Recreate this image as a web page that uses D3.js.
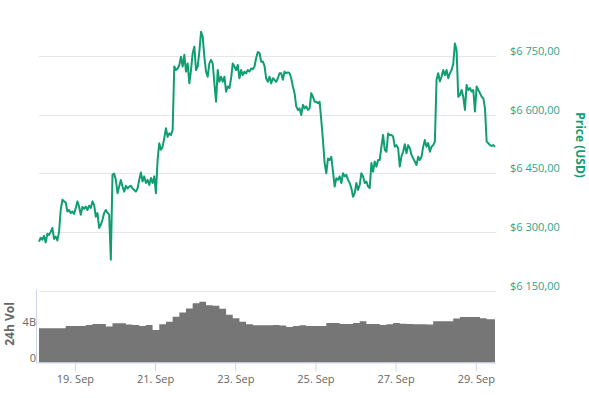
<!DOCTYPE html>
<html>
<head>
<meta charset="utf-8">
<script src="https://cdn.jsdelivr.net/npm/d3@7"></script>
<style>
  body { margin: 0; background: #fff; }
  text { font-family: "Open Sans", sans-serif; }
</style>
</head>
<body>
<div class="chart"></div>
<script>
// hourly BTC price, starting 18 Sep 2018 02:30
var priceStart = '2018-09-18 02:30';
var prices = [
  6275,6285,6280,6290,6273,6295,6292,6300,6310,6282,
  6288,6278,6300,6356,6382,6378,6375,6352,6356,6348,
  6352,6346,6361,6378,6365,6344,6364,6359,6365,6356,
  6367,6361,6378,6369,6339,6348,6310,6318,6331,6348,
  6356,6349,6344,6229,6446,6449,6433,6399,6416,6433,
  6416,6403,6418,6411,6416,6418,6411,6407,6403,6411,
  6433,6452,6429,6442,6425,6433,6420,6438,6425,6442,
  6399,6484,6527,6510,6518,6540,6565,6543,6552,6548,
  6561,6723,6714,6718,6727,6748,6723,6753,6710,6731,
  6680,6714,6757,6774,6714,6723,6761,6812,6799,6748,
  6710,6697,6731,6740,6731,6680,6633,6714,6684,6697,
  6684,6697,6659,6672,6668,6693,6731,6723,6714,6727,
  6693,6714,6701,6710,6706,6714,6710,
  6718,6716,6723,6745,6760,6758,6735,6736,6725,6693,
  6684,6697,6680,6693,6689,6684,6693,6706,6706,6689,
  6710,6706,6708,6706,6693,6672,6655,6621,6612,6616,
  6599,6625,6616,6621,6612,6616,6655,6646,6633,6633,
  6629,6633,6586,6535,6476,6450,6488,6484,6492,6454,
  6416,6437,6433,6442,6425,6450,6442,6446,6433,6425,
  6412,6390,6399,6425,6407,6420,6450,6442,6425,6429,
  6416,6412,6476,6454,6480,6467,6484,6484,6518,6548,
  6510,6505,6552,6548,6548,6544,6518,6522,6514,6467,
  6493,6505,6524,6501,6522,6514,6497,6488,6480,6471,
  6492,6484,6492,6518,6535,6518,6527,6505,6518,6522,
  6531,6689,6706,6685,6697,6714,6701,6714,6693,6706,
  6714,6730,6782,6765,6646,6650,6663,6646,6612,6676,
  6663,6668,6659,6663,6608,6672,6663,6655,6646,6642,
  6616,6531,6527,6522,6520,6522,6518
];
// 24h volume in billions, every 4 hours from the same start
var volumeStepHours = 4;
var volumes = [
  3.84,3.84,3.84,3.84,4.09,4.11,4.11,4.22,4.33,4.33,
  4.03,4.40,4.40,4.26,4.22,4.11,4.22,3.66,4.29,4.59,
  5.14,5.61,6.07,6.66,6.83,6.42,6.37,6.05,5.37,4.96,
  4.59,4.29,4.18,4.18,4.18,4.22,4.15,3.99,4.11,4.18,
  4.11,4.11,4.11,4.44,4.44,4.33,4.33,4.44,4.63,4.33,
  4.33,4.22,4.30,4.44,4.36,4.33,4.29,4.29,4.26,4.63,
  4.63,4.63,4.93,5.12,5.12,5.12,4.96,4.85,4.85
];
var priceTicks = [6150, 6300, 6450, 6600, 6750];
var volumeTicks = [0, 4];
var dateTicks = ['2018-09-19', '2018-09-21', '2018-09-23', '2018-09-25', '2018-09-27', '2018-09-29'];

var width = 589;
var height = 398;
var left = 39, right = 495;
var priceTop = 56, priceBottom = 290.5;
var volTop = 289.5, volBottom = 362.5;

var lineColor = '#0f9d72';
var labelColor = '#2aa58b';
var axisColor = '#ccd6eb';

var start = d3.timeParse('%Y-%m-%d %H:%M')(priceStart);
var priceData = prices.map(function(p, i) {
  return { date: d3.timeHour.offset(start, i), value: p };
});
var volumeData = volumes.map(function(v, i) {
  return { date: d3.timeHour.offset(start, i * volumeStepHours), value: v };
});
var endDate = priceData[priceData.length - 1].date;
volumeData.push({ date: endDate, value: volumes[volumes.length - 1] });

var x = d3.scaleTime()
  .domain([start, endDate])
  .range([left, right]);
var y = d3.scaleLinear()
  .domain([6150, 6750])
  .range([priceBottom, priceTop]);
var yVol = d3.scaleLinear()
  .domain([0, 8.2])
  .range([volBottom, volTop]);

var locale = d3.formatLocale({ decimal: ',', thousands: '\u00a0', grouping: [3], currency: ['$', ''] });
var fmtPrice = locale.format('$,.2f');

var svg = d3.select('.chart')
  .append('svg')
  .attr('width', width)
  .attr('height', height);

// price gridlines + right labels
svg.append('g')
  .selectAll('line')
  .data(priceTicks)
  .enter()
  .append('line')
  .attr('x1', left)
  .attr('x2', right + 1)
  .attr('y1', function(d) { return Math.round(y(d)) + 0.5; })
  .attr('y2', function(d) { return Math.round(y(d)) + 0.5; })
  .attr('stroke', '#e6e6e6');

svg.append('g')
  .selectAll('text')
  .data(priceTicks)
  .enter()
  .append('text')
  .attr('x', 510)
  .attr('y', function(d) { return y(d) - 1; })
  .attr('font-size', 11)
  .attr('fill', labelColor)
  .text(function(d) { return fmtPrice(d).replace('\u00a0', ' '); });

svg.append('text')
  .attr('transform', 'translate(576,145) rotate(90)')
  .attr('text-anchor', 'middle')
  .attr('font-size', 12)
  .attr('font-weight', 'bold')
  .attr('fill', lineColor)
  .text('Price (USD)');

// volume pane
var area = d3.area()
  .curve(d3.curveStepAfter)
  .x(function(d) { return x(d.date); })
  .y0(volBottom)
  .y1(function(d) { return yVol(d.value); });

svg.append('path')
  .datum(volumeData)
  .attr('d', area)
  .attr('fill', '#767676');

svg.append('line')
  .attr('x1', 36.5).attr('x2', 36.5)
  .attr('y1', volTop).attr('y2', volBottom)
  .attr('stroke', axisColor);

svg.append('g')
  .selectAll('text')
  .data(volumeTicks)
  .enter()
  .append('text')
  .attr('x', 36)
  .attr('y', function(d) { return yVol(d) - 1; })
  .attr('text-anchor', 'end')
  .attr('font-size', 11)
  .attr('fill', '#666')
  .text(function(d) { return d === 0 ? '0' : d + 'B'; });

svg.append('text')
  .attr('transform', 'translate(14,324) rotate(-90)')
  .attr('text-anchor', 'middle')
  .attr('font-size', 12)
  .attr('font-weight', 'bold')
  .attr('fill', '#666')
  .text('24h Vol');

// x axis
var parseDay = d3.timeParse('%Y-%m-%d');
var xAxis = d3.axisBottom(x)
  .tickValues(dateTicks.map(parseDay))
  .tickSize(9)
  .tickPadding(4)
  .tickFormat(d3.timeFormat('%d. %b'));

var gx = svg.append('g')
  .attr('transform', 'translate(0,' + volBottom + ')')
  .call(xAxis);
gx.select('.domain').attr('d', 'M36,0.5H' + (right + 1)).attr('stroke', axisColor);
gx.selectAll('.tick line').attr('stroke', axisColor);
gx.selectAll('.tick text')
  .attr('font-family', '"Open Sans", sans-serif')
  .attr('font-size', 11)
  .attr('fill', '#666');

// price line
var line = d3.line()
  .x(function(d) { return x(d.date); })
  .y(function(d) { return y(d.value); });

svg.append('path')
  .datum(priceData)
  .attr('d', line)
  .attr('fill', 'none')
  .attr('stroke', lineColor)
  .attr('stroke-width', 2)
  .attr('stroke-linejoin', 'round');
</script>
</body>
</html>
